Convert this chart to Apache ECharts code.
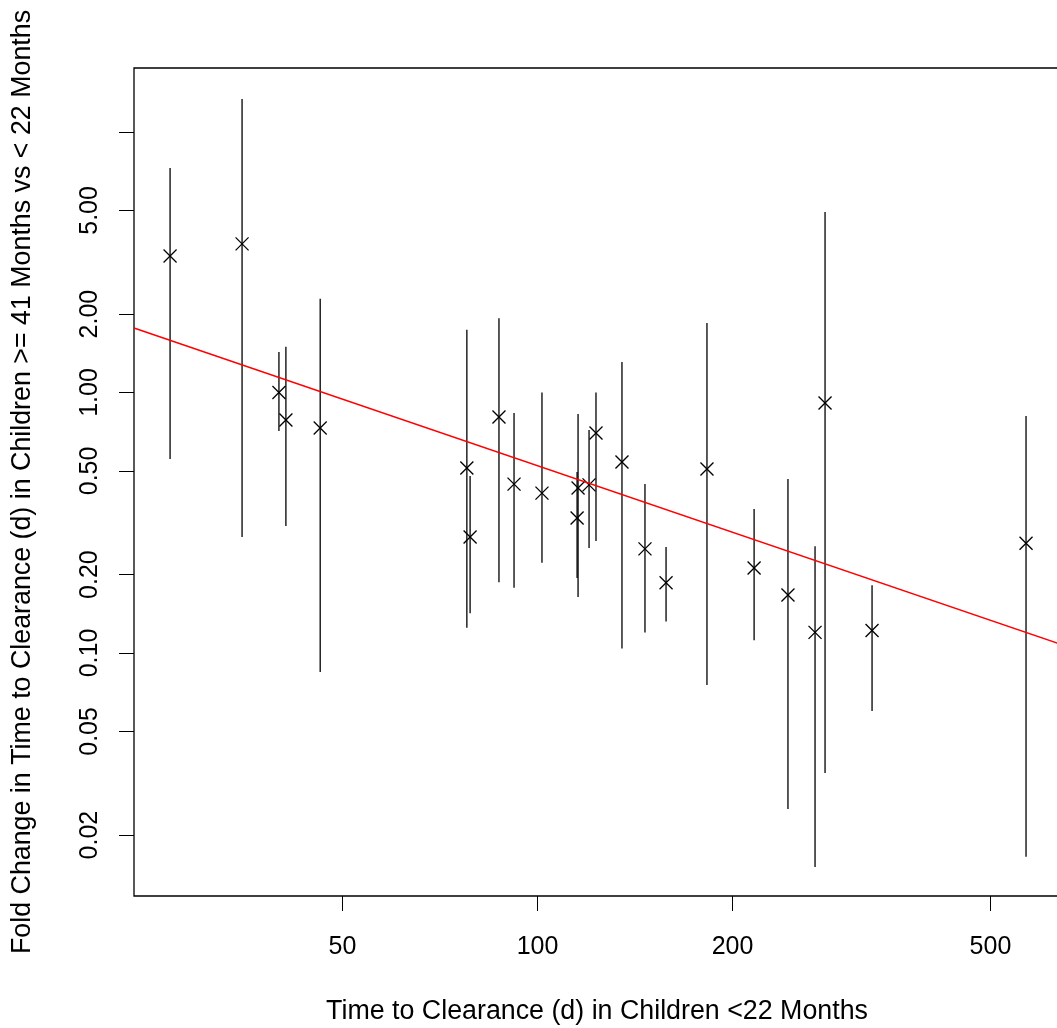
<!DOCTYPE html>
<html>
<head>
<meta charset="utf-8">
<title>Fold change vs time to clearance</title>
<script src="https://cdn.jsdelivr.net/npm/echarts@6/dist/echarts.min.js"></script>
<style>
  html, body { margin: 0; padding: 0; background: #fff; }
  #chart { width: 1057px; height: 1028px; }
</style>
</head>
<body>
<div id="chart"></div>
<script>
// time to clearance (d) in children <22 months
const xDays = [27.1, 35.0, 39.9, 40.9, 46.2, 77.8, 78.7, 87.2, 92.0, 101.6, 115.5, 115.1,
  120.1, 123.1, 135.0, 146.5, 157.9, 182.6, 215.9, 243.5, 268.1, 277.8, 328.3, 567.4]
// fold change (>= 41 months vs < 22 months) with interval
const foldChange = [3.34, 3.72, 1.00, 0.784, 0.731, 0.513, 0.279, 0.805, 0.445, 0.411, 0.430, 0.330,
  0.442, 0.699, 0.541, 0.251, 0.186, 0.509, 0.212, 0.167, 0.120, 0.911, 0.122, 0.264]
const ciLower = [0.556, 0.279, 0.712, 0.307, 0.0846, 0.125, 0.142, 0.187, 0.178, 0.222, 0.164, 0.194,
  0.253, 0.269, 0.104, 0.120, 0.132, 0.0754, 0.112, 0.0252, 0.0151, 0.0346, 0.0599, 0.0165]
const ciUpper = [7.27, 13.4, 1.43, 1.50, 2.29, 1.74, 0.478, 1.93, 0.834, 1.00, 0.827, 0.495,
  0.718, 1.00, 1.31, 0.445, 0.255, 1.85, 0.357, 0.466, 0.257, 4.93, 0.182, 0.812]

// fitted line, read at the plot edges
const fitX = [23.84, 640.2]
const fitY = [1.77, 0.1083]

const xTicks = [50, 100, 200, 500]
const yTicks = [0.02, 0.05, 0.1, 0.2, 0.5, 1, 2, 5, 10]
const yLabels = [0.02, 0.05, 0.1, 0.2, 0.5, 1, 2, 5]
const xRange = [23.84, 640.2]
const yRange = [0.011675, 17.61]

const lg = Math.log10
const font = '"Liberation Sans", Arial, Helvetica, sans-serif'

const chart = echarts.init(document.getElementById('chart'), null, { renderer: 'canvas' })

const pts = xDays.map((x, i) => [lg(x), lg(foldChange[i]), lg(ciLower[i]), lg(ciUpper[i])])

chart.setOption({
  backgroundColor: '#fff',
  animation: false,
  grid: {
    left: 134,
    right: -3,
    top: 68,
    bottom: 132,
    show: true,
    borderColor: '#000',
    borderWidth: 1.3,
    containLabel: false,
    outerBoundsMode: 'none'
  },
  xAxis: {
    type: 'value',
    min: lg(xRange[0]),
    max: lg(xRange[1]),
    name: 'Time to Clearance (d) in Children <22 Months',
    nameLocation: 'middle',
    nameGap: 102,
    nameTextStyle: { color: '#000', fontSize: 26.8, fontFamily: font },
    axisLine: { show: false, onZero: false },
    splitLine: { show: false },
    axisTick: {
      show: true,
      length: 15,
      customValues: xTicks.map(lg),
      lineStyle: { color: '#000', width: 1 }
    },
    axisLabel: {
      customValues: xTicks.map(lg),
      color: '#000',
      fontSize: 25,
      fontFamily: font,
      margin: 39,
      formatter: v => String(Math.round(Math.pow(10, v)))
    }
  },
  yAxis: {
    type: 'value',
    min: lg(yRange[0]),
    max: lg(yRange[1]),
    name: 'Fold Change in Time to Clearance (d) in Children >= 41 Months vs < 22 Months',
    nameLocation: 'middle',
    nameGap: 98,
    nameTextStyle: { color: '#000', fontSize: 26.8, fontFamily: font },
    axisLine: { show: false, onZero: false },
    splitLine: { show: false },
    axisTick: {
      show: true,
      length: 15,
      customValues: yTicks.map(lg),
      lineStyle: { color: '#000', width: 1 }
    },
    axisLabel: {
      customValues: yLabels.map(lg),
      rotate: 90,
      color: '#000',
      fontSize: 25,
      fontFamily: font,
      margin: 31,
      formatter: v => Math.pow(10, v).toFixed(2)
    }
  },
  series: [
    {
      type: 'custom',
      clip: true,
      data: pts,
      renderItem: function (params, api) {
        const c = api.coord([api.value(0), api.value(1)])
        const lo = api.coord([api.value(0), api.value(2)])
        const hi = api.coord([api.value(0), api.value(3)])
        const s = 6.5
        const st = { stroke: '#000', lineWidth: 1.3 }
        return {
          type: 'group',
          children: [
            { type: 'line', shape: { x1: hi[0], y1: hi[1], x2: lo[0], y2: lo[1] }, style: st },
            { type: 'line', shape: { x1: c[0] - s, y1: c[1] - s, x2: c[0] + s, y2: c[1] + s }, style: st },
            { type: 'line', shape: { x1: c[0] - s, y1: c[1] + s, x2: c[0] + s, y2: c[1] - s }, style: st }
          ]
        }
      }
    },
    {
      type: 'line',
      data: fitX.map((x, i) => [lg(x), lg(fitY[i])]),
      showSymbol: false,
      symbol: 'none',
      clip: true,
      lineStyle: { color: '#ff0000', width: 1.5 }
    }
  ]
})
</script>
</body>
</html>
